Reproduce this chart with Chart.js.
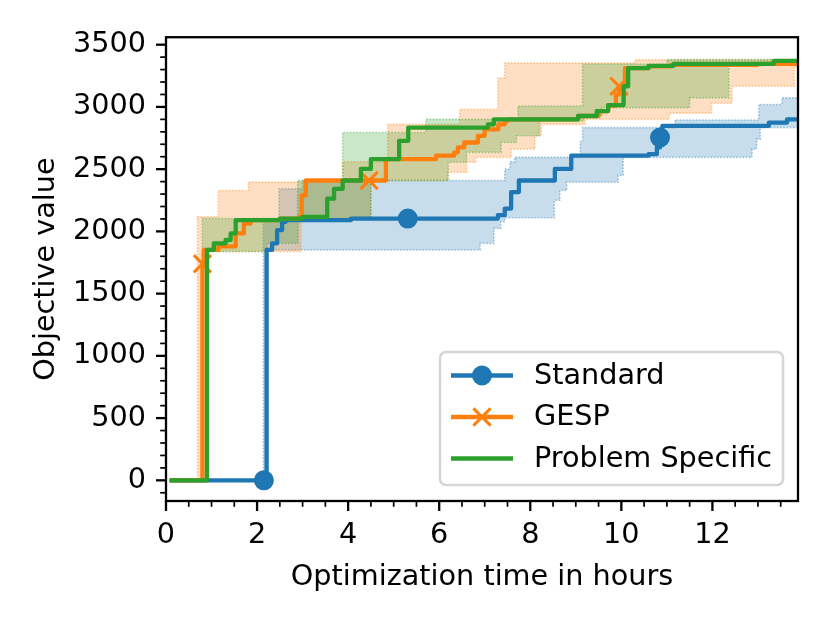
<!DOCTYPE html>
<html><head><meta charset="utf-8">
<script src="https://cdn.jsdelivr.net/npm/chart.js@4/dist/chart.umd.min.js"></script>
<style>html,body{margin:0;padding:0;background:#fff;}</style>
</head><body>
<canvas id="c" width="830" height="623"></canvas>
<script>
// ---------- data ----------
const seriesNames = ['Standard', 'GESP', 'Problem Specific'];
const xTickLabels = [0, 2, 4, 6, 8, 10, 12];
const yTickLabels = [0, 500, 1000, 1500, 2000, 2500, 3000, 3500];

// Standard (median line)
const stdTime  = [0.08, 2.15, 2.21, 2.33, 2.44, 2.55, 2.63, 4.06, 5.31, 7.14, 7.29, 7.44, 7.58, 7.75, 8.54, 8.9, 10.6, 10.78, 10.85, 10.9, 13.24, 13.64, 13.88];
const stdValue = [0, 0, 1851, 1904, 2011, 2077, 2090, 2103, 2103, 2103, 2130, 2183, 2316, 2409, 2502, 2608, 2621, 2675, 2754, 2847, 2874, 2900, 2900];
const stdMarkers = [2.15, 5.31, 10.85];
const stdLowTime  = [0.08, 2.2, 6.9, 7.2, 7.35, 7.44, 8.53, 8.65, 8.8, 9.93, 10.04, 12.87, 12.97, 13.05, 13.88];
const stdLow      = [0, 1851, 1904, 2024, 2077, 2110, 2250, 2330, 2396, 2449, 2595, 2661, 2741, 2834, 2834];
const stdHighTime = [0.08, 2.14, 2.48, 3.0, 7.44, 7.56, 7.66, 9.1, 9.15, 11.18, 13.02, 13.53, 13.88];
const stdHigh     = [0, 2103, 2342, 2409, 2500, 2560, 2595, 2720, 2834, 2895, 3020, 3073, 3073];

// GESP
const gespTime  = [0.08, 0.8, 0.83, 1.15, 1.53, 1.71, 1.86, 2.5, 2.92, 2.98, 3.07, 4.46, 4.83, 5.93, 6.33, 6.41, 6.55, 6.85, 7.0, 7.3, 7.44, 7.5, 9.05, 9.5, 9.71, 9.88, 9.95, 10.08, 10.6, 11.1, 13.0, 13.88];
const gespValue = [0, 1740, 1851, 1880, 1984, 2063, 2090, 2103, 2117, 2290, 2409, 2409, 2581, 2608, 2635, 2675, 2714, 2768, 2820, 2860, 2887, 2900, 2927, 2967, 3011, 3100, 3166, 3312, 3325, 3338, 3346, 3346];
const gespMarkers = [0.8, 4.46, 9.95];
const gespLowTime  = [0.08, 0.8, 2.96, 4.5, 6.19, 6.6, 6.8, 7.58, 8.1, 8.24, 9.2, 11.05, 11.98, 12.43, 13.8, 13.88];
const gespLow      = [0, 1838, 2103, 2409, 2475, 2555, 2595, 2661, 2768, 2860, 2900, 2950, 3030, 3166, 3320, 3320];
const gespHighTime = [0.08, 0.69, 1.15, 1.81, 3.07, 3.88, 4.87, 6.45, 7.29, 7.44, 10.3, 13.88];
const gespHigh     = [0, 2117, 2329, 2396, 2409, 2560, 2860, 2980, 3232, 3352, 3378, 3390];

// Problem Specific
const psTime  = [0.08, 0.9, 1.05, 1.31, 1.42, 1.53, 2.5, 3.0, 3.54, 3.69, 3.88, 4.28, 4.5, 5.12, 5.32, 7.07, 7.2, 9.05, 9.46, 9.71, 10.05, 10.15, 10.6, 11.15, 13.35, 13.88];
const psValue = [0, 1851, 1904, 1931, 1984, 2090, 2103, 2117, 2263, 2342, 2409, 2502, 2581, 2728, 2834, 2860, 2900, 2927, 2967, 3015, 3166, 3312, 3330, 3346, 3370, 3370];
const psLowTime  = [0.08, 0.88, 2.22, 2.9, 4.5, 6.2, 6.6, 7.36, 7.7, 8.2, 9.17, 9.57, 11.5, 12.36, 13.88];
const psLow      = [0, 1838, 1904, 2103, 2409, 2555, 2635, 2714, 2768, 2887, 2927, 2993, 3073, 3340, 3340];
const psHighTime = [0.08, 0.8, 2.89, 3.88, 5.71, 7.73, 9.15, 11.0, 13.88];
const psHigh     = [0, 2103, 2409, 2794, 2900, 3007, 3345, 3380, 3390];

// ---------- chart ----------
const COL = ['#1f77b4', '#ff7f0e', '#2ca02c'];
const RGB = ['31,119,180', '255,127,14', '44,160,44'];
const FONT = 28.7;
const pts = (t, v) => t.map((x, i) => ({x: x, y: v[i]}));

function bandLow(t, v, k, order) {
  return {data: pts(t, v), borderColor: `rgba(${RGB[k]},0.4)`, borderWidth: 1.6, borderDash: [1.6, 1.6],
    pointRadius: 0, stepped: true, fill: false, order: order};
}
function bandHigh(t, v, k, order) {
  return {data: pts(t, v), borderColor: `rgba(${RGB[k]},0.4)`, borderWidth: 1.6, borderDash: [1.6, 1.6],
    backgroundColor: `rgba(${RGB[k]},0.25)`, pointRadius: 0, stepped: true, fill: '-1', order: order};
}
function medLine(k, t, v, markers, style, order) {
  const isX = style === 'crossRot';
  return {label: seriesNames[k], data: pts(t, v), borderColor: COL[k], borderWidth: 4.3,
    stepped: true, fill: false, order: order, borderJoinStyle: 'round',
    pointRadius: t.map(x => markers.includes(x) ? (isX ? 12.2 : 9) : 0),
    pointHoverRadius: 0, pointStyle: style || 'circle',
    pointBackgroundColor: COL[k], pointBorderColor: COL[k], pointBorderWidth: isX ? 2.9 : 2};
}

const axisDecor = {
  id: 'axisDecor',
  afterDatasetsDraw(chart) {
    const {ctx, chartArea: a, scales: {x, y}} = chart;
    ctx.save();
    ctx.strokeStyle = '#000';
    ctx.lineCap = 'butt';
    for (let k = 0; k * 0.5 <= x.max + 1e-9; k++) {
      const px = x.getPixelForValue(k * 0.5);
      const major = (k % 4 === 0);
      ctx.lineWidth = major ? 2.3 : 1.7;
      ctx.beginPath(); ctx.moveTo(px, a.bottom); ctx.lineTo(px, a.bottom + (major ? 10 : 5.8)); ctx.stroke();
    }
    for (let k = -1; k * 100 <= y.max + 1e-9; k++) {
      const v = k * 100; if (v < y.min) continue;
      const py = y.getPixelForValue(v);
      const major = (k % 5 === 0);
      ctx.lineWidth = major ? 2.3 : 1.7;
      ctx.beginPath(); ctx.moveTo(a.left, py); ctx.lineTo(a.left - (major ? 10 : 5.8), py); ctx.stroke();
    }
    ctx.lineWidth = 2.3;
    ctx.lineJoin = 'miter';
    ctx.strokeRect(a.left, a.top, a.right - a.left, a.bottom - a.top);
    ctx.restore();
  },
  afterDraw(chart) {
    const ctx = chart.ctx;
    const bx = 440, by = 352, bw = 343, bh = 133, r = 6;
    ctx.save();
    ctx.beginPath();
    ctx.moveTo(bx + r, by); ctx.lineTo(bx + bw - r, by); ctx.arcTo(bx + bw, by, bx + bw, by + r, r);
    ctx.lineTo(bx + bw, by + bh - r); ctx.arcTo(bx + bw, by + bh, bx + bw - r, by + bh, r);
    ctx.lineTo(bx + r, by + bh); ctx.arcTo(bx, by + bh, bx, by + bh - r, r);
    ctx.lineTo(bx, by + r); ctx.arcTo(bx, by, bx + r, by, r); ctx.closePath();
    ctx.fillStyle = 'rgba(255,255,255,0.8)'; ctx.fill();
    ctx.strokeStyle = 'rgba(204,204,204,0.8)'; ctx.lineWidth = 2.5; ctx.stroke();
    const rows = [375.5, 417, 458.5];
    const lines = chart.data.datasets.filter(d => d.label);
    lines.forEach((d, i) => {
      const yy = rows[i];
      ctx.strokeStyle = d.borderColor; ctx.lineWidth = 4.3; ctx.lineCap = 'butt';
      ctx.beginPath(); ctx.moveTo(451, yy); ctx.lineTo(513, yy); ctx.stroke();
      if (i === 0) {
        ctx.fillStyle = d.borderColor; ctx.beginPath(); ctx.arc(482, yy, 10, 0, Math.PI * 2); ctx.fill();
      } else if (d.pointStyle === 'crossRot') {
        ctx.lineWidth = 2.9; ctx.beginPath();
        ctx.moveTo(482 - 8.6, yy - 8.6); ctx.lineTo(482 + 8.6, yy + 8.6);
        ctx.moveTo(482 - 8.6, yy + 8.6); ctx.lineTo(482 + 8.6, yy - 8.6); ctx.stroke();
      }
      ctx.fillStyle = '#000'; ctx.font = FONT + "px 'DejaVu Sans'"; ctx.textAlign = 'left'; ctx.textBaseline = 'middle';
      ctx.fillText(d.label, 534, yy + 1);
    });
    ctx.restore();
  }
};

Chart.defaults.font.family = "'DejaVu Sans'";
Chart.defaults.font.size = FONT;
Chart.defaults.color = '#000';

new Chart(document.getElementById('c'), {
  type: 'line',
  data: {
    datasets: [
      bandLow(stdLowTime, stdLow, 0, 20), bandHigh(stdHighTime, stdHigh, 0, 19),
      bandLow(gespLowTime, gespLow, 1, 18), bandHigh(gespHighTime, gespHigh, 1, 17),
      bandLow(psLowTime, psLow, 2, 16), bandHigh(psHighTime, psHigh, 2, 15),
      medLine(0, stdTime, stdValue, stdMarkers, 'circle', 3),
      medLine(1, gespTime, gespValue, gespMarkers, 'crossRot', 2),
      medLine(2, psTime, psValue, [], 'circle', 1)
    ]
  },
  plugins: [axisDecor],
  options: {
    responsive: false, animation: false, events: [],
    layout: {padding: {left: 0, right: 32, top: 34, bottom: 0}},
    plugins: {legend: {display: false}, tooltip: {enabled: false}},
    scales: {
      x: {
        type: 'linear', min: 0, max: 13.88,
        afterBuildTicks: s => { s.ticks = xTickLabels.map(v => ({value: v})); },
        afterFit: s => { s.height = 122; },
        ticks: {padding: 17, maxRotation: 0, autoSkip: false, callback: v => String(v)},
        grid: {display: false, drawTicks: false}, border: {display: false},
        title: {display: true, text: 'Optimization time in hours', padding: {top: 0, bottom: 28}}
      },
      y: {
        type: 'linear', min: -166, max: 3560,
        afterBuildTicks: s => { s.ticks = yTickLabels.map(v => ({value: v})); },
        afterFit: s => { s.width = 166; },
        ticks: {padding: 20, autoSkip: false, callback: v => String(v)},
        grid: {display: false, drawTicks: false}, border: {display: false},
        title: {display: true, text: 'Objective value', padding: {top: 29, bottom: 0}}
      }
    }
  }
});
</script>
</body></html>
